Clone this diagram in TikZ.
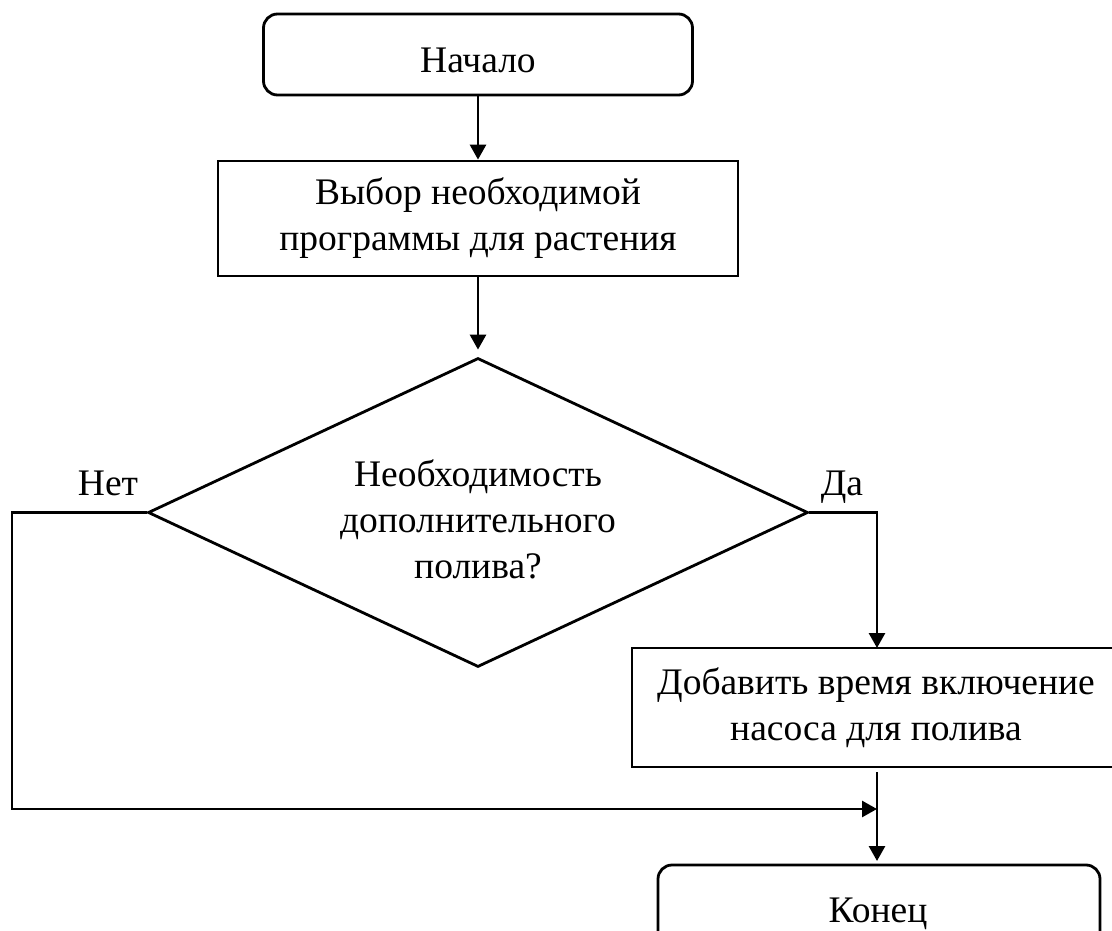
\documentclass[tikz,border=0pt]{standalone}
\usepackage{fontspec}
\setmainfont{Liberation Serif}
\usetikzlibrary{shapes.geometric,arrows.meta}
\begin{document}
\begin{tikzpicture}[x=1pt,y=-1pt,
  every node/.style={font=\fontsize{37.5}{46}\selectfont},
  lw/.style={line width=2.8pt},
  term/.style={draw,lw,rounded corners=14pt,inner sep=0pt},
  proc/.style={draw,lw,inner sep=0pt,align=center},
  dec/.style={draw,lw,diamond,inner sep=0pt,aspect=2.15},
  arr/.style={lw,-{Triangle[length=15pt,width=16pt]}},
  ln/.style={lw}]
\useasboundingbox (0,0) rectangle (1112,931);
\clip (0,0) rectangle (1112,931);
\node[term,minimum width=429pt,minimum height=81pt] (start) at (478,54.5) {};
\node[anchor=base] (startt) at (478,73) {Начало};
\node[proc,minimum width=520pt,minimum height=115pt] (b2) at (478,218.5) {Выбор необходимой\\программы для растения};
\node[dec,minimum width=660pt,minimum height=309pt] (d) at (478,512.5) {};
\node[align=center] (dt) at (478,519) {Необходимость\\дополнительного\\полива?};
\node[proc,minimum width=488pt,minimum height=119pt] (b3) at (876,707.5) {Добавить время включение\\насоса для полива};
\node[term,minimum width=442pt,minimum height=90pt] (end) at (879,910) {};
\node[anchor=base] (endt) at (878,922) {Конец};
\node[anchor=base] (no) at (108,495) {Нет};
\node[anchor=base] (yes) at (842,495) {Да};
\coordinate (r1) at (877,512.5);
\coordinate (l1) at (12,512.5);
\coordinate (l2) at (12,809);
\coordinate (m) at (877,809);
\coordinate (b3top) at (877,648);
\coordinate (b3bot) at (877,772);
\coordinate (endtop) at (877,861);
\draw[arr] (start.south) -- (b2.north);
\draw[arr,shorten >=7pt] (b2.south) -- (d.north);
\draw[arr] (d.east) -- (r1) -- (b3top);
\draw[arr] (d.west) -- (l1) -- (l2) -- (m);
\draw[arr] (b3bot) -- (endtop);
\end{tikzpicture}
\end{document}
